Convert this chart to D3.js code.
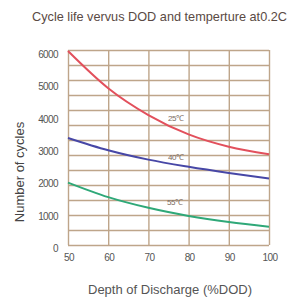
<!DOCTYPE html>
<html><head><meta charset="utf-8">
<script src="https://cdn.jsdelivr.net/npm/d3@7"></script>
<style>body{margin:0;background:#fff}svg{display:block}</style>
</head><body>
<script>
const dod = [50, 60, 70, 80, 90, 100];
const cycles25 = [6000, 4850, 4020, 3420, 3040, 2810];
const cycles40 = [3310, 2930, 2640, 2420, 2230, 2060];
const cycles55 = [1930, 1480, 1150, 900, 710, 565];
const yTicks = [0, 1000, 2000, 3000, 4000, 5000, 6000];
const seriesLabels = ["25\u2103", "40\u2103", "55\u2103"];

const W = 301, H = 298;
const svg = d3.select("body").append("svg").attr("width", W).attr("height", H);
const x = d3.scaleLinear().domain([50, 100]).range([68, 269]);
const y = d3.scaleLinear().domain([0, 6000]).range([245, 51]);
const narrow = "'Liberation Sans Narrow','Arial Narrow','Liberation Sans',sans-serif";
const gridC = "rgb(190,165,138)";

// grid
const rowVals = d3.range(14).map(i => i * 6000 / 13);
const gy = d3.scaleLinear().domain([0, 6000]).range([245, 50]);
svg.append("g").attr("transform", "translate(0,0)")
  .call(d3.axisLeft(gy).tickValues(rowVals).tickSize(-(269 - 68)).tickFormat(""))
  .attr("transform", "translate(68,0)")
  .call(g => g.selectAll("line,path").attr("stroke", gridC).attr("stroke-width", 1.4))
  .call(g => g.select(".domain").remove());
svg.append("g").attr("transform", "translate(0,245)")
  .call(d3.axisBottom(x).tickValues(dod).tickSize(-195).tickFormat(""))
  .call(g => g.selectAll("line").attr("stroke", gridC).attr("stroke-width", 1.4))
  .call(g => g.select(".domain").remove());

// curves
const line = d3.line().x((d, i) => x(dod[i])).y(d => y(d)).curve(d3.curveMonotoneX);
const series = [[cycles25, "#e2505c"], [cycles40, "#4747a6"], [cycles55, "#2fa878"]];
series.forEach(([vals, c]) => {
  svg.append("path").attr("d", line(vals)).attr("fill", "none")
    .attr("stroke", c).attr("stroke-width", 2);
});

// series labels
const labPos = [[168, 121], [168, 160], [167, 205]];
seriesLabels.forEach((t, i) => {
  svg.append("text").attr("x", labPos[i][0]).attr("y", labPos[i][1])
    .attr("font-family", narrow).attr("font-size", 8).attr("fill", "#7a6a60")
    .attr("letter-spacing", -0.5).text(t);
});

// y tick labels
svg.selectAll("text.yt").data(yTicks).join("text").attr("class", "yt")
  .attr("x", 58).attr("y", d => y(d) + 7).attr("text-anchor", "end")
  .attr("font-family", narrow).attr("font-size", 10).attr("fill", "#555")
  .attr("letter-spacing", -0.6).text(d => d);

// x tick labels
svg.selectAll("text.xt").data(dod).join("text").attr("class", "xt")
  .attr("x", d => x(d) + 1).attr("y", 261).attr("text-anchor", "middle")
  .attr("font-family", narrow).attr("font-size", 10).attr("fill", "#555")
  .attr("letter-spacing", -0.6).text(d => d);

// axis titles
svg.append("text").attr("transform", "translate(24,172) rotate(-90)")
  .attr("text-anchor", "middle").attr("font-family", "'Liberation Sans',Arial,sans-serif")
  .attr("font-size", 13).attr("fill", "#444").text("Number of cycles");
svg.append("text").attr("x", 170).attr("y", 294).attr("text-anchor", "middle")
  .attr("font-family", "'Liberation Sans',Arial,sans-serif")
  .attr("font-size", 13).attr("fill", "#555").text("Depth of Discharge (%DOD)");

// title
svg.append("text").attr("x", 32).attr("y", 21)
  .attr("font-family", narrow).attr("font-size", 13).attr("fill", "#5a4a44")
  .attr("textLength", 255).attr("lengthAdjust", "spacingAndGlyphs")
  .text("Cycle life vervus DOD and temperture at0.2C");
</script>
</body></html>
